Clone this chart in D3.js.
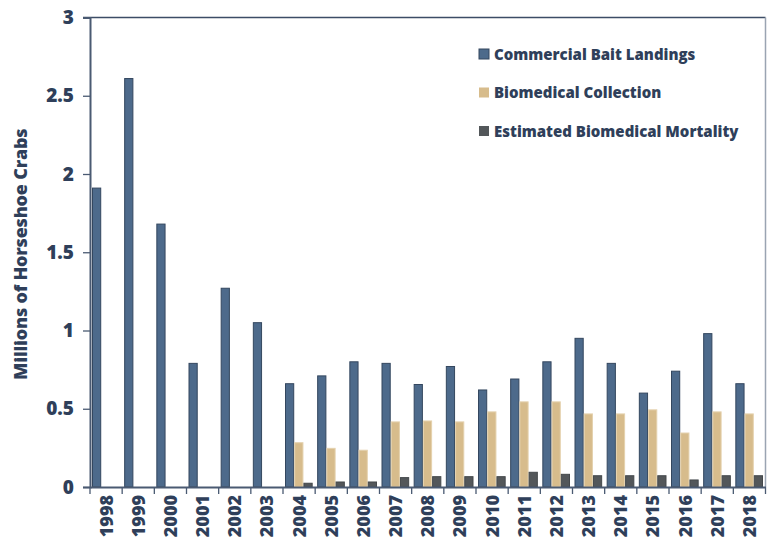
<!DOCTYPE html>
<html>
<head>
<meta charset="utf-8">
<script src="https://cdn.jsdelivr.net/npm/d3@7"></script>
<style>
  body { margin: 0; background: #fff; }
  text { font-family: "Open Sans", sans-serif; font-weight: 800; fill: #2f3f5a; }
</style>
</head>
<body>
<div id="chart"></div>
<script>
var years = ["1998","1999","2000","2001","2002","2003","2004","2005","2006","2007","2008",
             "2009","2010","2011","2012","2013","2014","2015","2016","2017","2018"];
var baitLandings = [1.91, 2.61, 1.68, 0.79, 1.27, 1.05, 0.66, 0.71, 0.80, 0.79, 0.655,
                    0.77, 0.62, 0.69, 0.80, 0.95, 0.79, 0.60, 0.74, 0.98, 0.66];
var bioCollection = [0, 0, 0, 0, 0, 0, 0.283, 0.247, 0.235, 0.416, 0.422,
                     0.416, 0.48, 0.544, 0.544, 0.467, 0.467, 0.493, 0.345, 0.48, 0.467];
var bioMortality = [0, 0, 0, 0, 0, 0, 0.024, 0.032, 0.032, 0.06, 0.066,
                    0.066, 0.066, 0.094, 0.081, 0.072, 0.072, 0.072, 0.045, 0.072, 0.072];
var seriesNames = ["Commercial Bait Landings", "Biomedical Collection", "Estimated Biomedical Mortality"];
var yTicks = [0, 0.5, 1, 1.5, 2, 2.5, 3];

var colour = ["#4d6a8b", "#d7bc8c", "#53575a"];
var stroke = ["#34475f", "#e4d1ae", "#44484b"];

var width = 770, height = 548;
var margin = {top: 17.5, right: 4.5, bottom: 61, left: 90};

var svg = d3.select("#chart").append("svg")
    .attr("width", width)
    .attr("height", height);

var x = d3.scaleBand()
    .domain(years)
    .range([margin.left, width - margin.right])
    .paddingInner(0)
    .paddingOuter(0);

var xs = d3.scaleBand()
    .domain([0, 1, 2])
    .range([2, x.bandwidth() - 2.5]);

var y = d3.scaleLinear()
    .domain([0, 3])
    .range([height - margin.bottom, margin.top]);

var rows = years.map(function (d, i) {
    return {year: d, values: [baitLandings[i], bioCollection[i], bioMortality[i]]};
});

// bars
var groups = svg.selectAll(".year")
    .data(rows)
    .enter()
    .append("g")
    .attr("transform", function (d) { return "translate(" + x(d.year) + ",0)"; });

groups.selectAll("rect")
    .data(function (d) { return d.values; })
    .enter()
    .filter(function (d) { return d > 0; })
    .append("rect")
    .attr("x", function (d, i) { return xs(i) + 0.5; })
    .attr("y", function (d) { return y(d); })
    .attr("width", xs.bandwidth() - 1)
    .attr("height", function (d) { return y(0) - y(d); })
    .style("fill", function (d, i) { return colour[i]; })
    .style("stroke", function (d, i) { return stroke[i]; })
    .style("stroke-width", 1);

// frame: top and right
svg.append("line")
    .attr("x1", margin.left - 7).attr("x2", width - margin.right)
    .attr("y1", y(3)).attr("y2", y(3))
    .style("stroke", "#3c4d66").style("stroke-width", 1.5);
svg.append("line")
    .attr("x1", width - margin.right).attr("x2", width - margin.right)
    .attr("y1", y(3)).attr("y2", y(0))
    .style("stroke", "#9aa4b2").style("stroke-width", 1.5);

// y axis
var yAxis = svg.append("g")
    .attr("transform", "translate(" + margin.left + ",0)")
    .call(d3.axisLeft(y).tickValues(yTicks).tickSize(7).tickPadding(6)
        .tickFormat(function (d) { return d; }));
yAxis.select(".domain").style("stroke", "#4a5a72").style("stroke-width", 2);
yAxis.selectAll(".tick line").style("stroke", "#4a5a72").style("stroke-width", 1.3);
yAxis.selectAll("text")
    .style("font-size", "19px")
    .style("fill", "#2f3f5a")
    .attr("dx", "-3");

// x axis
var xAxis = svg.append("g")
    .attr("transform", "translate(0," + y(0) + ")")
    .call(d3.axisBottom(x).tickSize(0).tickPadding(8));
xAxis.select(".domain").style("stroke", "#4a5a72").style("stroke-width", 2);
xAxis.selectAll("text")
    .style("font-size", "18px")
    .style("fill", "#2f3f5a")
    .attr("text-anchor", "end")
    .attr("transform", "rotate(-90)")
    .attr("x", -8)
    .attr("y", 0)
    .attr("dy", "0.36em");

// ticks between categories
svg.append("g").selectAll("line")
    .data(years.concat(["end"]))
    .enter()
    .append("line")
    .attr("x1", function (d, i) { return margin.left + i * x.step(); })
    .attr("x2", function (d, i) { return margin.left + i * x.step(); })
    .attr("y1", y(0))
    .attr("y2", y(0) + 7)
    .style("stroke", "#4a5a72")
    .style("stroke-width", 1.3);

// y title
svg.append("text")
    .attr("transform", "translate(27," + (y(1.5) + 2) + ") rotate(-90)")
    .attr("text-anchor", "middle")
    .style("font-size", "18px")
    .style("letter-spacing", "-0.2px")
    .text("Millions of Horseshoe Crabs");

// legend
var legend = svg.selectAll(".legend")
    .data(seriesNames)
    .enter()
    .append("g")
    .attr("class", "legend")
    .attr("transform", function (d, i) {
        return "translate(479," + (49 + i * 38.5) + ")";
    });

legend.append("rect")
    .attr("width", 10)
    .attr("height", 10)
    .style("fill", function (d, i) { return colour[i]; })
    .style("stroke", function (d, i) { return i == 0 ? stroke[0] : "none"; });

legend.append("text")
    .attr("x", 15)
    .attr("y", 10.5)
    .style("font-size", "15px")
    .text(function (d) { return d; });
</script>
</body>
</html>
